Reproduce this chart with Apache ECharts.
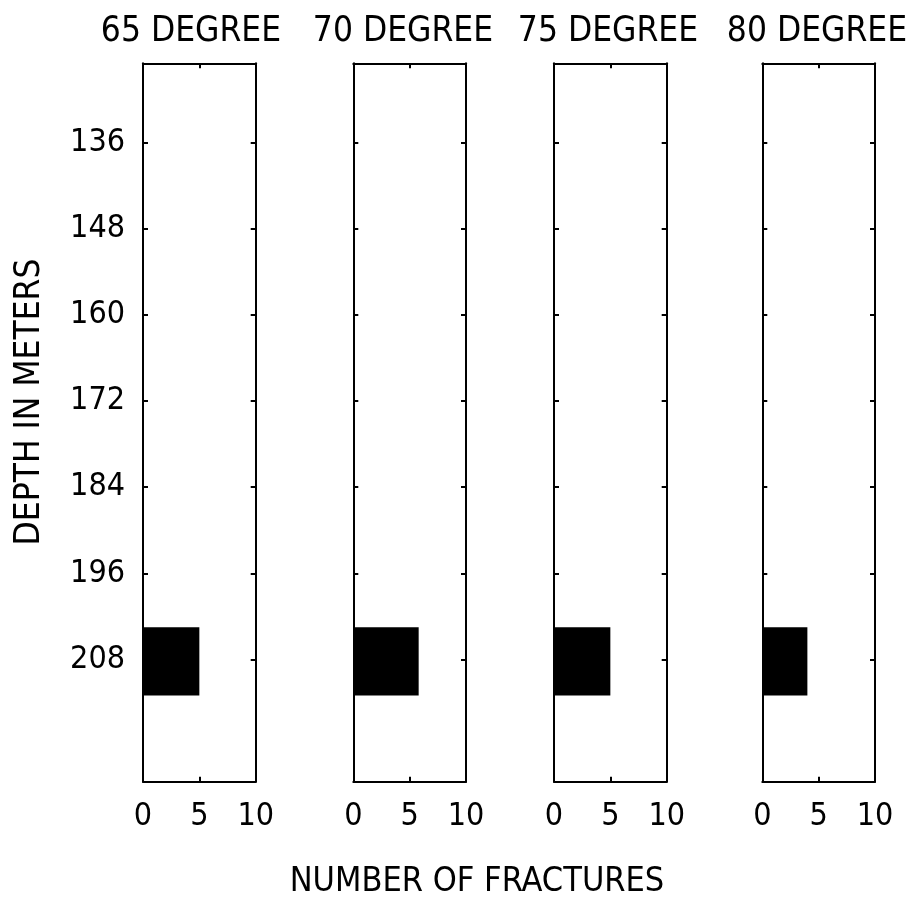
<!DOCTYPE html>
<html>
<head>
<meta charset="utf-8">
<script src="https://cdn.jsdelivr.net/npm/echarts@6/dist/echarts.min.js"></script>
<style>html,body{margin:0;padding:0;background:#fff;}#c{width:910px;height:903px;}</style>
</head>
<body>
<div id="c"></div>
<script>
// ---- data ----
var panelTitles = ['65 DEGREE', '70 DEGREE', '75 DEGREE', '80 DEGREE'];
var depthTicks = [136, 148, 160, 172, 184, 196, 208];
var xTicks = [0, 5, 10];
var binTop = [203.5, 203.5, 203.5, 203.5];
var binBottom = [213, 213, 213, 213];
var fractureCounts = [5, 5.8, 5, 4];
var depthMin = 125, depthMax = 225;
var xMin = 0, xMax = 10;

var FONT = '"DejaVu Sans Condensed", "Liberation Sans Narrow", "Liberation Sans", sans-serif';
var chart = echarts.init(document.getElementById('c'), null, {renderer: 'canvas'});

var lefts = [143, 353.3, 554, 762.3];
var width = 112.7;
var titleCenters = [191, 403, 608, 817];
var grids = [], xAxes = [], yAxes = [], series = [], graphics = [];
var lineStyle = {color: '#000', width: 2};

for (var i = 0; i < 4; i++) {
  grids.push({left: lefts[i], top: 63.3, width: width, height: 718.4, containLabel: false});
  xAxes.push({
    type: 'value', gridIndex: i, position: 'bottom', min: xMin, max: xMax,
    axisLine: {show: true, onZero: false, lineStyle: lineStyle},
    axisTick: {show: true, inside: true, length: 5, lineStyle: lineStyle, customValues: xTicks},
    axisLabel: {show: true, color: '#000', fontFamily: FONT, fontSize: 32, margin: 19, customValues: xTicks, formatter: function (v) { return String(v); }},
    splitLine: {show: false}
  });
  xAxes.push({
    type: 'value', gridIndex: i, position: 'top', min: xMin, max: xMax,
    axisLine: {show: true, onZero: false, lineStyle: lineStyle},
    axisTick: {show: true, inside: true, length: 5, lineStyle: lineStyle, customValues: xTicks},
    axisLabel: {show: false},
    splitLine: {show: false}
  });
  yAxes.push({
    type: 'value', gridIndex: i, position: 'left', min: depthMin, max: depthMax, inverse: true,
    axisLine: {show: true, onZero: false, lineStyle: lineStyle},
    axisTick: {show: true, inside: true, length: 5, lineStyle: lineStyle, customValues: depthTicks},
    axisLabel: {show: i === 0, color: '#000', fontFamily: FONT, fontSize: 32, margin: 18, customValues: depthTicks, formatter: function (v) { return String(v); }},
    splitLine: {show: false}
  });
  yAxes.push({
    type: 'value', gridIndex: i, position: 'right', min: depthMin, max: depthMax, inverse: true,
    axisLine: {show: true, onZero: false, lineStyle: lineStyle},
    axisTick: {show: true, inside: true, length: 5, lineStyle: lineStyle, customValues: depthTicks},
    axisLabel: {show: false},
    splitLine: {show: false}
  });
  series.push({
    type: 'custom',
    xAxisIndex: i * 2, yAxisIndex: i * 2,
    data: [[fractureCounts[i], binTop[i], binBottom[i]]],
    renderItem: function (params, api) {
      var p0 = api.coord([0, api.value(1)]);
      var p1 = api.coord([api.value(0), api.value(2)]);
      return {type: 'rect', shape: {x: p0[0], y: p0[1], width: p1[0] - p0[0], height: p1[1] - p0[1]}, style: {fill: '#000'}};
    },
    silent: true, animation: false
  });
  graphics.push({
    type: 'text', x: titleCenters[i], y: 31.5,
    style: {text: panelTitles[i], fill: '#000', font: '35px ' + FONT, textAlign: 'center', textVerticalAlign: 'middle'}
  });
}
graphics.push({
  type: 'text', x: 477, y: 882,
  style: {text: 'NUMBER OF FRACTURES', fill: '#000', font: '34px ' + FONT, textAlign: 'center', textVerticalAlign: 'middle'}
});
graphics.push({
  type: 'text', x: 30, y: 402, rotation: Math.PI / 2,
  style: {text: 'DEPTH IN METERS', fill: '#000', font: '35px ' + FONT, textAlign: 'center', textVerticalAlign: 'middle'}
});

chart.setOption({
  animation: false,
  backgroundColor: '#fff',
  grid: grids,
  xAxis: xAxes,
  yAxis: yAxes,
  series: series,
  graphic: graphics
});
</script>
</body>
</html>
